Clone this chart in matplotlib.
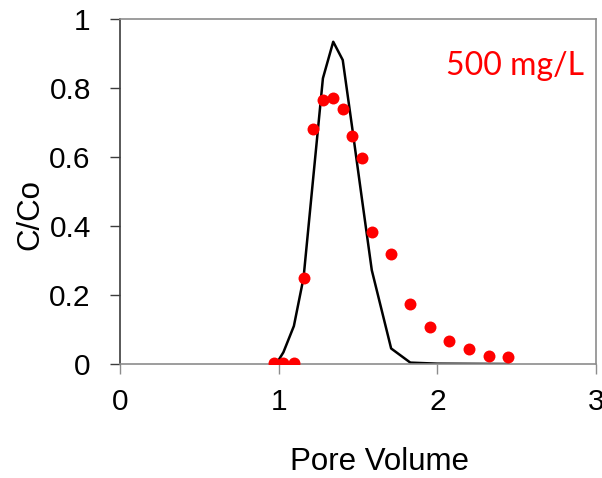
import matplotlib
matplotlib.use('Agg')
import matplotlib.pyplot as plt

# 实测数据点（红色圆点）
pv_obs = [0.97, 1.03, 1.096, 1.157, 1.218, 1.279, 1.344, 1.404, 1.465, 1.526,
          1.587, 1.709, 1.830, 1.954, 2.075, 2.199, 2.323, 2.447]
c_obs = [0.002, 0.002, 0.002, 0.250, 0.680, 0.766, 0.772, 0.739, 0.661, 0.597,
         0.384, 0.320, 0.173, 0.107, 0.066, 0.043, 0.022, 0.019]

# 模拟曲线（黑线）
pv_fit = [0.99, 1.03, 1.096, 1.157, 1.218, 1.279, 1.344, 1.404, 1.465, 1.526,
          1.587, 1.709, 1.830, 2.0, 2.447]
c_fit = [0.004, 0.034, 0.110, 0.250, 0.540, 0.828, 0.934, 0.881, 0.680, 0.475,
         0.272, 0.045, 0.004, 0.001, 0.0]

plt.rcParams['font.family'] = ['Liberation Sans', 'DejaVu Sans']

fig = plt.figure(figsize=(6.02, 4.78), dpi=100)
ax = fig.add_axes([0.1993, 0.2385, 0.7907, 0.7218])

ax.plot(pv_fit, c_fit, color='black', linewidth=1.8, zorder=2)
ax.plot(pv_obs, c_obs, 'o', color='#ff0000', markersize=8.6, markeredgewidth=0, zorder=3)

ax.set_xlim(0, 3)
ax.set_ylim(0, 1)
ax.set_xticks([0, 1, 2, 3])
ax.set_xticklabels(['0', '1', '2', '3'])
ax.set_yticks([0, 0.2, 0.4, 0.6, 0.8, 1])
ax.set_yticklabels(['0', '0.2', '0.4', '0.6', '0.8', '1'])

for s in ['top', 'right', 'bottom']:
    ax.spines[s].set_color('#8c8c8c')
    ax.spines[s].set_linewidth(1.2)
ax.spines['left'].set_color('#3c3c3c')
ax.spines['left'].set_linewidth(1.2)

ax.tick_params(axis='y', direction='out', length=7, width=1, color='#3c3c3c',
               labelsize=21.5, pad=14)
ax.tick_params(axis='x', direction='out', length=7, width=1, color='#8c8c8c',
               labelsize=21.5, pad=10)

ax.set_xlabel('Pore Volume', fontsize=22.5)
ax.xaxis.set_label_coords(0.546, -0.284)
ax.xaxis.label.set_va('center')
ax.set_ylabel('C/Co', fontsize=22.5)
ax.yaxis.set_label_coords(-0.189, 0.432)
ax.yaxis.label.set_va('center')

ax.text(2.925, 0.865, '500 mg/L', color='#ff0000', fontsize=23,
        family=['Lato', 'DejaVu Sans'], ha='right', va='center')

fig.savefig('out.png', dpi=100)
